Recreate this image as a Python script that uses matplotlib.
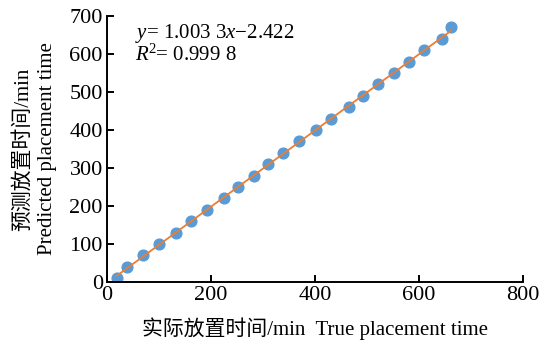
import numpy as np
import matplotlib.pyplot as plt

plt.rcParams['font.family'] = ['Liberation Serif', 'Noto Sans CJK SC']
plt.rcParams['mathtext.fontset'] = 'custom'
plt.rcParams['mathtext.rm'] = 'Liberation Serif'
plt.rcParams['mathtext.it'] = 'Liberation Serif:italic'

# data
true_time = [19, 38, 69, 100, 133, 161, 192, 225, 252, 283, 310, 339,
             369, 402, 430, 465, 493, 522, 552, 581, 610, 645, 661]
pred_time = [10, 40, 70, 100, 130, 160, 190, 220, 250, 280, 310, 340,
             370, 400, 430, 460, 490, 520, 550, 580, 610, 640, 670]
slope = 1.0033
intercept = -2.422

fig = plt.figure(figsize=(5.53, 3.42), dpi=100)
ax = fig.add_axes([0.1935, 0.1754, 0.7523, 0.7778])

ax.scatter(true_time, pred_time, s=60, color='#5b9bd5', zorder=2)
xs = np.array([min(true_time), max(true_time)])
ax.plot(xs, slope * xs + intercept, color='#ed7d31', lw=1.3, zorder=3)

ax.set_xlim(0, 800)
ax.set_ylim(0, 700)
ax.set_xticks(range(0, 801, 200))
ax.set_yticks(range(0, 701, 100))
for s in ['top', 'right']:
    ax.spines[s].set_visible(False)
for s in ['left', 'bottom']:
    ax.spines[s].set_linewidth(1.4)
ax.tick_params(direction='in', length=5, width=1.4, labelsize=16, pad=3)

ax.set_xlabel('实际放置时间/min  True placement time', fontsize=15, labelpad=9)
ax.set_ylabel('预测放置时间/min\nPredicted placement time', fontsize=15,
              labelpad=9, linespacing=1.35)

ax.text(0.067, 0.936, '$y$= 1.003 3$x$\u22122.422', transform=ax.transAxes,
        fontsize=15, va='center')
ax.text(0.067, 0.853, '$R$$^2$= 0.999 8', transform=ax.transAxes,
        fontsize=15, va='center')

fig.savefig('out.png', dpi=100)
